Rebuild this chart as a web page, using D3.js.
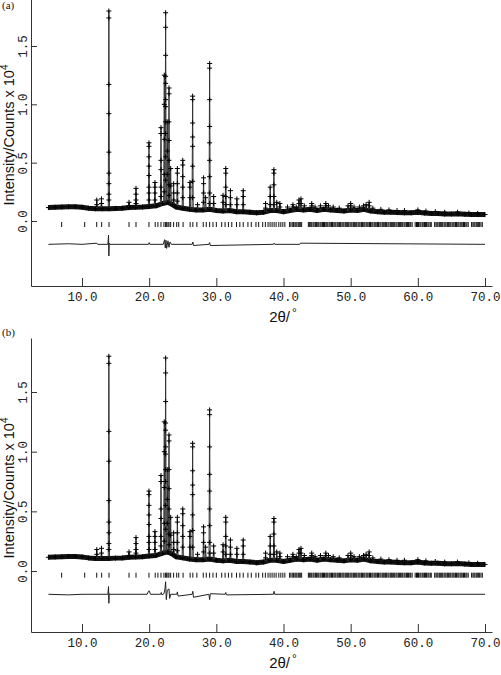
<!DOCTYPE html>
<html>
<head>
<meta charset="utf-8">
<script src="https://cdn.jsdelivr.net/npm/d3@7"></script>
<style>
  body { margin: 0; background: #fff; }
  svg { display: block; }
</style>
</head>
<body>
<script>
// ---- data (intensity in units of 10^4 counts) ----

// background level under the pattern
var bgTheta = [5, 6, 7, 8, 9, 10, 11, 12, 13, 14, 15, 16, 17, 18, 19, 20, 21, 22, 22.8, 23.5, 24, 25, 26, 27, 28, 29, 30,
  31, 32, 33, 34, 35, 36, 37, 38, 39, 40, 41, 42, 43, 44, 45, 46, 47, 48, 49, 50, 51, 52, 53, 54, 55, 56, 57, 58,
  59, 60, 61, 62, 63, 64, 65, 66, 67, 68, 69, 70];
var bgVal = [0.115, 0.118, 0.12, 0.122, 0.122, 0.118, 0.11, 0.105, 0.105, 0.105, 0.108, 0.11, 0.115, 0.118, 0.12,
  0.125, 0.13, 0.15, 0.16, 0.14, 0.12, 0.11, 0.10, 0.095, 0.095, 0.10, 0.09, 0.085, 0.09, 0.08, 0.08, 0.075, 0.07,
  0.075, 0.09, 0.09, 0.08, 0.09, 0.10, 0.095, 0.10, 0.09, 0.10, 0.095, 0.09, 0.085, 0.095, 0.09, 0.10, 0.085, 0.08,
  0.075, 0.075, 0.072, 0.07, 0.07, 0.075, 0.068, 0.065, 0.065, 0.06, 0.06, 0.062, 0.058, 0.055, 0.055, 0.055];

// Bragg peaks: position, top, background at the foot, and observed points read on the flank
var peakPos = [12.2, 12.9, 14.0, 17.0, 18.04, 19.97, 20.86, 21.76, 22.25, 22.45, 22.7, 22.95, 23.2, 23.64, 24.2,
  25.0, 26.07, 26.47, 27.2, 28.1, 28.4, 29.0, 29.6, 31.0, 31.4, 32.1, 33.06, 34.0, 37.33, 38.02, 38.57, 39.0,
  39.46, 40.6, 41.4, 41.9, 42.3, 42.6, 43.1, 44.2, 44.7, 45.5, 46.3, 46.7, 47.4, 48.3, 49.6, 50.0, 50.5, 51.3,
  51.9, 52.3, 52.75, 53.3, 54.5, 55.7, 56.9, 58.0, 60.0, 61.2, 62.6, 64.0, 65.9, 67.6, 68.9];
var peakTop = [0.18, 0.19, 1.80, 0.16, 0.28, 0.67, 0.33, 0.80, 1.25, 1.785, 0.85, 1.14, 0.45, 0.32, 0.45,
  0.52, 0.33, 1.07, 0.14, 0.37, 0.20, 1.35, 0.21, 0.22, 0.45, 0.26, 0.19, 0.26, 0.15, 0.29, 0.44, 0.16,
  0.15, 0.12, 0.14, 0.12, 0.18, 0.19, 0.13, 0.15, 0.12, 0.13, 0.15, 0.13, 0.12, 0.11, 0.13, 0.15, 0.12, 0.12,
  0.13, 0.14, 0.16, 0.11, 0.10, 0.095, 0.09, 0.09, 0.095, 0.085, 0.08, 0.075, 0.075, 0.068, 0.065];
var peakBase = [0.105, 0.105, 0.105, 0.115, 0.118, 0.125, 0.13, 0.14, 0.15, 0.155, 0.16, 0.16, 0.15, 0.14, 0.12,
  0.11, 0.10, 0.10, 0.095, 0.095, 0.095, 0.10, 0.095, 0.085, 0.085, 0.09, 0.08, 0.08, 0.075, 0.09, 0.09, 0.09,
  0.09, 0.085, 0.09, 0.09, 0.10, 0.10, 0.095, 0.10, 0.095, 0.09, 0.10, 0.095, 0.095, 0.09, 0.085, 0.095, 0.09, 0.09,
  0.095, 0.10, 0.10, 0.085, 0.08, 0.075, 0.075, 0.07, 0.075, 0.068, 0.065, 0.06, 0.062, 0.058, 0.055];
var peakObs = [[0.14], [0.15], [1.74, 1.17, 0.92, 0.59, 0.41, 0.32, 0.23, 0.18], [0.13], [0.23, 0.18, 0.15],
  [0.64, 0.55, 0.47, 0.39, 0.29, 0.24, 0.18], [0.29, 0.24, 0.18], [0.75, 0.52, 0.44, 0.29, 0.21],
  [1.0, 0.7, 0.4, 0.25], [1.66, 1.42, 1.24, 1.18, 1.04, 0.98, 0.85, 0.75, 0.55, 0.35], [0.6, 0.4],
  [1.09, 0.85, 0.69, 0.52, 0.31, 0.22], [0.3], [0.24, 0.18], [0.41, 0.32, 0.24, 0.17],
  [0.48, 0.38, 0.29, 0.2], [0.29, 0.2], [1.04, 0.84, 0.72, 0.64, 0.47, 0.34, 0.2], [], [0.32, 0.24, 0.16], [],
  [1.31, 1.04, 0.81, 0.67, 0.52, 0.38, 0.24, 0.15], [0.15], [0.16], [0.41, 0.29, 0.21, 0.14], [0.2, 0.14], [0.14],
  [0.21, 0.14], [0.11], [0.21, 0.14], [0.41, 0.31, 0.21, 0.14], [], [0.12],
  [], [0.12], [], [0.15], [0.15], [], [0.13], [], [], [0.13], [], [], [], [], [0.13], [], [],
  [], [], [0.13], [], [], [], [], [], [], [], [], [], [], [], []];

// reflection positions (tick row)
var reflPos = [6.97, 10.4, 12.19, 12.93, 14.02, 17.0, 18.04, 19.97, 20.9, 21.3, 21.76, 22.2, 22.45, 22.6, 22.8,
  22.95, 23.2, 23.64, 24.1, 24.4, 25.05, 26.1, 26.5, 27.1, 28.05, 28.5, 29.0, 29.5, 30.0, 30.8, 31.3, 31.8, 32.3,
  33.0, 33.5, 34.0, 34.7, 35.2, 35.9, 36.3, 36.9, 37.3, 37.7, 38.0, 38.3, 38.6, 38.9, 39.3, 39.6, 39.9, 40.2,
  40.9, 41.1, 41.3, 41.5, 41.7, 41.85, 42.0, 42.2, 42.35, 42.5, 42.7,
  43.7, 43.85, 44.05, 44.2, 44.4, 44.55, 44.75, 44.9, 45.1, 45.25, 45.45, 45.6, 45.8, 45.95, 46.1, 46.3, 46.45,
  46.6, 46.8, 46.95, 47.15, 47.3, 47.5, 47.65, 47.8, 48.0, 48.15, 48.35, 48.5, 48.7, 48.85, 49.0, 49.2, 49.35,
  49.55, 49.7, 49.9, 50.05, 50.2, 50.4, 50.55, 50.75, 50.9, 51.1, 51.25, 51.4, 51.6, 51.75, 51.95, 52.1, 52.3,
  52.45, 52.6, 52.8, 52.95, 53.15, 53.3, 53.5, 53.65, 53.8, 54.0, 54.15, 54.35, 54.5, 54.7, 54.85, 55.0, 55.2,
  55.35, 55.55, 55.7, 55.9, 56.05, 56.2, 56.4, 56.55, 56.75, 56.9, 57.1, 57.25, 57.4, 57.6, 57.75, 57.95, 58.1,
  58.3, 58.45, 58.6, 58.8, 58.95, 59.15, 59.6, 59.8, 59.95, 60.1, 60.3, 60.45, 60.65, 60.8, 61.0, 61.15, 61.3,
  61.5, 61.65, 61.85, 62.0, 62.5, 62.7, 62.85, 63.0, 63.2, 63.35, 63.55, 63.7, 63.9, 64.05, 64.2, 64.4, 64.55,
  64.75, 64.9, 65.1, 65.25, 65.4, 65.6, 65.75, 65.95, 66.1, 66.3, 66.45, 66.6, 66.8, 66.95, 67.15, 67.3, 67.5,
  68.0, 68.2, 68.35, 68.5, 68.7, 68.85, 69.05, 69.2, 69.4, 69.6];

// difference curves (obs - calc, offset)
var diffThetaA = [5, 8, 10, 12.2, 12.3, 13.85, 13.95, 14.0, 14.05, 14.15, 19.9, 20.0, 20.1, 22.1, 22.3, 22.4, 22.5,
  22.6, 22.8, 22.95, 23.1, 23.3, 26.4, 26.5, 26.6, 28.9, 29.0, 29.1, 38.5, 38.6, 38.7, 42.4, 42.5, 70];
var diffA = [-0.2, -0.195, -0.2, -0.19, -0.2, -0.2, -0.12, -0.30, -0.19, -0.2, -0.2, -0.185, -0.2, -0.2, -0.16,
  -0.23, -0.165, -0.235, -0.17, -0.225, -0.18, -0.2, -0.2, -0.18, -0.21, -0.2, -0.185, -0.21, -0.2, -0.19, -0.2,
  -0.2, -0.19, -0.2];
var diffThetaB = [5, 8, 10, 13.85, 13.95, 14.0, 14.05, 14.15, 19.7, 19.9, 20.0, 20.2, 21.7, 21.8, 21.9, 22.2, 22.35,
  22.45, 22.55, 22.7, 22.95, 23.05, 23.2, 24.1, 24.2, 24.3, 26.4, 26.5, 26.6, 28.9, 29.0, 29.1, 31.3, 31.4, 31.5,
  38.5, 38.6, 38.7, 70];
var diffB = [-0.195, -0.2, -0.195, -0.195, -0.13, -0.27, -0.19, -0.195, -0.195, -0.17, -0.165, -0.195, -0.195,
  -0.18, -0.2, -0.19, -0.15, -0.09, -0.24, -0.16, -0.15, -0.23, -0.195, -0.195, -0.175, -0.21, -0.195, -0.17,
  -0.22, -0.195, -0.24, -0.19, -0.195, -0.18, -0.2, -0.195, -0.17, -0.195, -0.195];

var xTicks = [10, 20, 30, 40, 50, 60, 70];
var yTicks = [0, 0.5, 1.0, 1.5];

// ---- drawing ----
var svgWidth = 501;
var svgHeight = 675;

var svg = d3.select("body")
  .append("svg")
  .attr("width", svgWidth)
  .attr("height", svgHeight);

var x = d3.scaleLinear()
  .domain([2.407, 71.04])
  .range([31, 492]);

var monoFont = "'Courier New', 'Liberation Mono', monospace";
var sansFont = "Arial, 'Liberation Sans', sans-serif";

function drawPanel(p) {
  var y = d3.scaleLinear().domain(p.yDomain).range(p.yRange);
  var g = svg.append("g");

  // reflection ticks
  g.append("g").selectAll("line")
    .data(reflPos)
    .enter()
    .append("line")
    .attr("x1", d => x(d)).attr("x2", d => x(d))
    .attr("y1", y(p.reflY) - 2.5).attr("y2", y(p.reflY) + 2.5)
    .attr("stroke", "#111")
    .attr("stroke-width", 1);

  // difference curve
  g.append("path")
    .datum(d3.zip(p.diffTheta, p.diff))
    .attr("fill", "none")
    .attr("stroke", "#222")
    .attr("stroke-width", 1)
    .attr("d", d3.line().x(d => x(d[0])).y(d => y(d[1])));

  // calculated background band
  g.append("path")
    .datum(d3.zip(bgTheta, bgVal))
    .attr("fill", "none")
    .attr("stroke", "#111")
    .attr("stroke-width", 5)
    .attr("stroke-linejoin", "round")
    .attr("d", d3.line().x(d => x(d[0])).y(d => y(d[1])));

  // calculated peaks
  var peakLine = d3.line().x(d => x(d[0])).y(d => y(d[1]));
  g.append("g").selectAll("path")
    .data(peakPos)
    .enter()
    .append("path")
    .attr("fill", "none")
    .attr("stroke", "#333")
    .attr("stroke-width", 1)
    .attr("d", (d, i) => peakLine([[d - 0.09, peakBase[i]], [d, peakTop[i]], [d + 0.09, peakBase[i]]]));

  // observed points as crosses
  var pts = d3.zip(bgTheta, bgVal);
  peakPos.forEach(function(d, i) {
    pts.push([d, peakTop[i]]);
    peakObs[i].forEach(v => pts.push([d, v]));
  });
  var cs = 2.5;
  g.append("g").selectAll("path")
    .data(pts)
    .enter()
    .append("path")
    .attr("fill", "none")
    .attr("stroke", "#000")
    .attr("stroke-width", 1)
    .attr("d", d => {
      var px = x(d[0]), py = y(d[1]);
      return `M${px - cs},${py}H${px + cs}M${px},${py - cs}V${py + cs}`;
    });

  // axes
  var bottom = p.yRange[0];
  var xAxis = g.append("g")
    .attr("transform", `translate(0, ${bottom})`)
    .call(d3.axisBottom(x).tickValues(xTicks).tickSizeInner(-8).tickSizeOuter(0).tickFormat(d3.format(".1f")));
  xAxis.selectAll("text")
    .attr("y", 15)
    .attr("dy", null)
    .attr("font-family", monoFont)
    .attr("font-size", 12.5)
    .attr("fill", "#222");

  var yAxis = g.append("g")
    .attr("transform", "translate(31, 0)")
    .call(d3.axisLeft(y).tickValues(yTicks).tickSizeInner(-6).tickSizeOuter(0).tickFormat(d3.format(".1f")));
  yAxis.selectAll("text")
    .attr("x", 0)
    .attr("dy", null)
    .attr("text-anchor", "middle")
    .attr("transform", "translate(-4,0) rotate(-90)")
    .attr("font-family", monoFont)
    .attr("font-size", 12.5)
    .attr("fill", "#222");
  g.selectAll(".domain, .tick line").attr("stroke", "#333");

  // axis titles
  var yt = g.append("text")
    .attr("transform", `translate(14, ${p.yTitleY}) rotate(-90)`)
    .attr("text-anchor", "middle")
    .attr("font-family", sansFont)
    .attr("font-size", 14.5)
    .attr("fill", "#111");
  yt.append("tspan").text("Intensity/Counts x 10");
  yt.append("tspan").attr("dy", -6).attr("font-size", 10).text("4");

  var xt = g.append("text")
    .attr("x", 283)
    .attr("y", bottom + 36)
    .attr("text-anchor", "middle")
    .attr("font-family", sansFont)
    .attr("font-size", 15)
    .attr("fill", "#111");
  xt.append("tspan").text("2θ/");
  xt.append("tspan").attr("dy", -5).attr("dx", 2).attr("font-size", 12).text("°");

  g.append("text")
    .attr("x", 2)
    .attr("y", p.labelY)
    .attr("font-family", "'Liberation Serif', 'Times New Roman', serif")
    .attr("font-size", 11)
    .attr("fill", "#111")
    .text(p.label);
}

drawPanel({ label: "(a)", labelY: 9, yDomain: [-0.557, 1.954], yRange: [286, -7],
  yTitleY: 135, reflY: -0.03, diffTheta: diffThetaA, diff: diffA });
drawPanel({ label: "(b)", labelY: 336, yDomain: [-0.511, 1.9525], yRange: [632, 338],
  yTitleY: 488, reflY: -0.035, diffTheta: diffThetaB, diff: diffB });
</script>
</body>
</html>
